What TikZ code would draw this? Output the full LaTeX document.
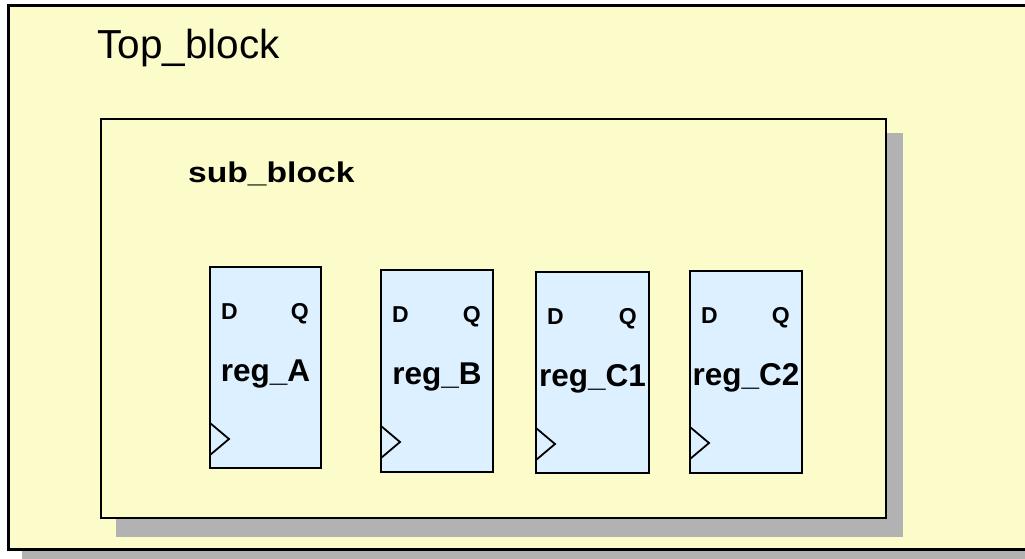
\documentclass[tikz,border=0pt]{standalone}
\usepackage{fontspec}
\setmainfont{Liberation Sans}
\usetikzlibrary{calc}
\definecolor{bgyellow}{RGB}{252,252,202}
\definecolor{regblue}{RGB}{220,240,255}
\definecolor{shadowgray}{RGB}{178,178,178}
\tikzset{
  shadowbox/.style={fill=shadowgray, draw=none},
  outerbox/.style={fill=bgyellow, draw=black, line width=3pt},
  subbox/.style={fill=bgyellow, draw=black, line width=2.5pt},
  regbox/.style={rectangle, fill=regblue, draw=black, line width=2pt, anchor=north west, inner sep=0pt, outer sep=0pt},
  pinlabel/.style={font=\fontsize{23}{25}\selectfont\bfseries, inner sep=0pt},
  reglabel/.style={font=\fontsize{31.5}{34}\selectfont\bfseries, inner sep=0pt, anchor=base},
  clk/.style={draw=black, line width=1.8pt, line join=miter}
}
\newcommand{\myreg}[6]{%
  \node[regbox, minimum width=#4pt, minimum height=#5pt] (#1) at (#2,#3) {};
  \node[pinlabel, anchor=base west] (#1D) at ($(#1.north west)+(11,52)$) {D};
  \node[pinlabel, anchor=base east] (#1Q) at ($(#1.north east)+(-12,52)$) {Q};
  \node[reglabel] (#1L) at ($(#1.north)+(0,114)$) {#6};
  \draw[clk] ($(#1.north west)+(0,156)$) -- ++(19,16) -- ++(-19,16);
}
\begin{document}
\begin{tikzpicture}[x=1pt,y=-1pt]
  \useasboundingbox (0,0) rectangle (1025,559);
  \clip (0,0) rectangle (1025,559);
  \fill[white] (0,0) rectangle (1025,559);
  % outer block
  \fill[shadowbox] (22,20) rectangle (1070,565);
  \draw[outerbox] (8,6) rectangle (1060,549);
  \node[anchor=base west, inner sep=0pt, font=\fontsize{40.5}{44}\selectfont] (top) at (97,59) {Top\_block};
  % sub block
  \fill[shadowbox] (116,133) rectangle (903,537);
  \draw[subbox] (101,119) rectangle (886,518);
  \node[anchor=base west, inner sep=0pt, font=\fontsize{28.5}{30}\selectfont\bfseries] (sub) at (188,182) {\scalebox{1.18}[1]{sub\_block}};
  % registers
  \myreg{rA}{210}{267}{111}{201}{reg\_A}
  \myreg{rB}{381}{270}{112}{202}{reg\_B}
  \myreg{rC}{536}{272}{113}{201}{reg\_C1}
  \myreg{rD}{690}{271}{112}{202}{reg\_C2}
\end{tikzpicture}
\end{document}
